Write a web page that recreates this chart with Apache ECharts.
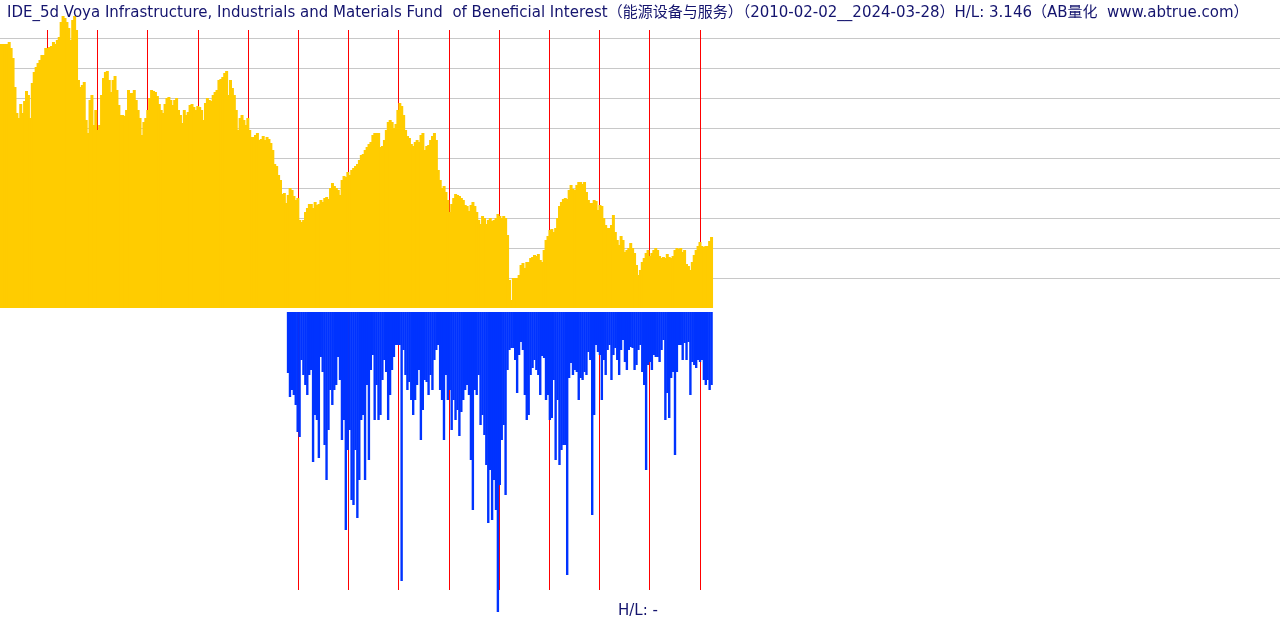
<!DOCTYPE html>
<html>
<head>
<meta charset="utf-8">
<script src="https://cdn.jsdelivr.net/npm/echarts@6/dist/echarts.min.js"></script>
<style>
html,body{margin:0;padding:0;background:#fff;}
#chart{width:1280px;height:620px;}
</style>
</head>
<body>
<div id="chart"></div>
<script>
// ---- data ----
const titleText = "IDE_5d Voya Infrastructure, Industrials and Materials Fund  of Beneficial Interest（能源设备与服务）（2010-02-02__2024-03-28）H/L: 3.146（AB量化  www.abtrue.com）";
const footText = "H/L: -";
const startDate = "2010-02-02";
const stepDays = 14;
// price-like series (one value per two weeks)
const priceValues = [
26.4,26.4,26.4,26.4,26.6,26.0,25.0,22.1,19.5,19.0,
20.4,19.5,20.7,21.7,21.3,19.0,22.5,23.6,24.1,24.5,
24.8,25.3,25.3,26.0,26.0,26.1,26.2,26.6,26.4,26.8,
27.1,28.6,29.2,29.0,28.6,28.0,26.8,28.8,29.2,27.8,
22.8,22.1,22.3,22.6,18.8,17.5,20.8,21.3,18.3,19.8,
17.8,18.3,21.3,23.0,23.6,23.7,22.8,21.6,22.8,23.2,
21.8,20.3,19.3,19.3,19.2,19.8,21.8,21.5,21.5,21.8,
20.8,19.8,19.0,17.3,18.6,19.0,19.8,21.0,21.8,21.7,
21.6,21.2,20.4,19.8,19.5,20.4,21.0,21.1,20.8,20.3,
20.8,21.0,19.8,19.3,18.5,19.8,19.3,19.6,20.3,20.4,
20.1,19.8,20.2,20.1,19.8,18.8,20.5,21.0,20.8,20.7,
21.3,21.6,21.8,22.8,22.9,23.1,23.5,23.7,21.3,22.8,
22.0,21.3,19.8,17.8,19.0,19.3,18.8,18.3,19.0,17.8,
17.1,17.1,17.3,17.5,16.8,16.9,17.2,16.8,17.1,16.9,
16.5,15.8,14.4,14.2,13.3,12.8,11.4,11.5,10.5,11.3,
12.0,11.8,11.2,10.8,11.0,8.8,8.6,8.8,9.6,10.0,
10.4,10.4,10.0,10.6,10.3,10.4,10.8,10.6,11.0,11.1,
10.9,12.0,12.5,12.2,12.0,11.8,11.3,12.8,13.2,13.1,
13.6,13.3,13.8,14.0,14.2,14.4,14.8,15.3,15.4,15.8,
16.1,16.4,16.6,17.3,17.5,17.5,17.5,16.1,16.2,16.8,
17.8,18.6,18.8,18.6,18.0,18.4,19.8,20.5,20.2,19.3,
17.8,17.2,17.0,16.4,16.2,16.6,16.8,16.6,17.3,17.5,
15.8,16.2,16.3,16.8,17.2,17.5,16.8,13.8,12.8,12.0,
12.2,11.6,10.8,9.6,10.4,11.0,11.4,11.3,11.2,11.0,
10.8,10.3,10.2,9.7,10.3,10.6,10.2,9.6,8.8,8.4,
9.2,9.0,8.4,8.8,9.0,8.7,8.8,9.0,9.4,9.2,
9.0,9.2,9.0,7.3,2.8,0.8,3.0,3.0,3.0,3.3,
4.3,4.5,4.0,4.6,4.6,5.0,5.1,5.3,5.2,5.4,
4.8,4.6,5.8,6.8,7.2,7.8,7.9,7.6,8.0,9.0,
10.2,10.6,10.9,11.0,10.9,11.8,12.3,11.9,11.8,12.3,
12.6,12.6,12.4,12.6,11.6,10.8,10.5,10.5,10.8,10.7,
9.8,10.3,10.2,9.0,8.3,8.0,8.0,8.3,9.3,7.6,
6.8,6.3,7.2,6.8,5.6,5.8,6.0,6.5,6.0,5.5,
4.3,3.3,3.8,4.6,5.0,5.5,5.8,5.2,5.5,5.8,
6.0,5.8,5.2,5.0,5.1,5.0,5.4,5.1,5.0,5.2,
5.8,6.0,5.9,6.0,5.6,5.8,4.4,4.2,3.8,4.6,
5.3,5.8,6.2,6.6,6.2,6.1,6.2,6.2,6.7,7.1
];
// lower panel series starts at this index of the price series
const lowerStartIndex = 149;
const lowerValues = [
6.1,8.5,7.8,8.3,9.3,12.0,12.5,4.8,6.3,7.3,
8.3,6.3,5.8,15.0,10.3,10.8,14.6,4.5,6.0,13.3,
16.8,11.8,7.8,9.3,7.8,7.3,4.5,6.8,12.8,10.8,
21.8,13.8,11.8,18.8,19.3,13.8,20.6,16.8,10.8,10.3,
16.8,7.3,14.8,5.8,4.3,10.8,7.3,10.8,10.3,6.8,
4.8,6.0,10.8,8.3,5.8,4.5,3.3,3.3,3.3,26.9,
3.8,6.3,7.8,7.0,8.8,10.3,8.8,7.3,5.8,12.8,
9.8,6.8,7.0,8.3,6.3,7.8,4.8,3.8,3.3,7.8,
8.8,12.8,6.3,8.8,7.8,11.8,8.8,10.8,9.8,12.4,
10.0,8.8,7.8,7.3,8.3,14.8,19.8,7.8,8.3,6.3,
11.3,10.3,12.3,15.3,21.1,15.8,20.8,16.8,19.8,30.0,
17.3,12.8,11.3,18.3,5.8,3.8,3.6,3.6,4.8,8.1,
4.3,3.0,3.8,8.3,10.8,10.3,6.3,5.6,4.8,5.8,
6.3,8.3,4.4,4.6,8.8,8.3,10.8,10.6,6.8,14.8,
8.8,15.3,13.8,13.3,13.3,26.3,6.6,5.1,6.3,5.8,
6.0,8.8,6.6,6.8,6.0,6.3,4.0,4.8,20.3,10.3,
3.3,4.0,4.3,8.8,4.8,6.3,3.8,3.3,6.8,4.3,
3.6,4.8,6.3,3.8,2.8,5.0,5.8,3.8,3.5,3.6,
5.8,5.3,3.8,3.3,6.0,7.3,15.8,5.3,5.0,5.8,
4.3,4.5,4.5,5.0,3.8,2.8,10.8,8.1,10.6,6.6,
6.0,14.3,6.0,3.3,3.3,4.8,3.1,4.8,3.0,8.3,
5.0,5.3,5.6,4.8,5.0,4.8,6.8,7.3,6.8,7.8,
7.3
];
const upperYearMarks = ["2011-01-01","2012-01-01","2013-01-01","2014-01-01","2015-01-01","2016-01-01","2017-01-01","2018-01-01","2019-01-01","2020-01-01","2021-01-01","2022-01-01","2023-01-01","2024-01-01"];
const lowerYearMarks = ["2016-01-01","2017-01-01","2018-01-01","2019-01-01","2020-01-01","2021-01-01","2022-01-01","2023-01-01","2024-01-01"];
const markTop = 27.8;

// ---- build ----
const DAY = 86400000;
const t0 = Date.parse(startDate + "T00:00:00Z");
const axisMax = t0 + 9291 * DAY;
const ts = s => Date.parse(s + "T00:00:00Z");
const priceData = priceValues.map((v, i) => [t0 + i * stepDays * DAY, v]);
const lowerData = lowerValues.map((v, k) => [t0 + (lowerStartIndex + k) * stepDays * DAY, v]);
const marks = arr => arr.map(d => [{coord: [ts(d), markTop]}, {coord: [ts(d), 0]}]);

const FONT = 'DejaVu Sans, Noto Sans CJK SC, sans-serif';
const chart = echarts.init(document.getElementById('chart'), null, {renderer: 'canvas'});
const hiddenX = (gi) => ({type: 'time', gridIndex: gi, min: t0, max: axisMax, show: false});
chart.setOption({
  animation: false,
  backgroundColor: '#ffffff',
  title: {
    text: titleText,
    left: 2, top: 1,
    textStyle: {fontSize: 15, fontWeight: 'normal', color: '#14146e', fontFamily: FONT}
  },
  graphic: [{
    type: 'text', left: 618, top: 604,
    style: {text: footText, fontSize: 15, fill: '#14146e', fontFamily: FONT}
  }],
  grid: [
    {left: 0, right: 0, top: 8, height: 300},
    {left: 0, right: 0, top: 312, height: 300}
  ],
  xAxis: [hiddenX(0), hiddenX(1)],
  yAxis: [
    {type: 'value', gridIndex: 0, min: 0, max: 30, interval: 3,
     axisLine: {show: false}, axisTick: {show: false}, axisLabel: {show: false},
     splitLine: {show: true, showMinLine: false, showMaxLine: false, lineStyle: {color: '#c8c8c8', width: 1}}},
    {type: 'value', gridIndex: 1, min: 0, max: 30, inverse: true, show: false, splitLine: {show: false}}
  ],
  series: [
    {type: 'line', xAxisIndex: 0, yAxisIndex: 0, data: [], z: 1, silent: true,
     markLine: {silent: true, symbol: 'none', z: 1, label: {show: false},
       lineStyle: {color: '#ff0000', width: 1, type: 'solid'}, emphasis: {disabled: true},
       data: marks(upperYearMarks)}},
    {type: 'line', xAxisIndex: 1, yAxisIndex: 1, data: [], z: 1, silent: true,
     markLine: {silent: true, symbol: 'none', z: 1, label: {show: false},
       lineStyle: {color: '#ff0000', width: 1, type: 'solid'}, emphasis: {disabled: true},
       data: marks(lowerYearMarks)}},
    {type: 'bar', xAxisIndex: 0, yAxisIndex: 0, data: priceData, barWidth: 3, z: 3,
     large: false, itemStyle: {color: '#ffcc00'}, silent: true},
    {type: 'bar', xAxisIndex: 1, yAxisIndex: 1, data: lowerData, barWidth: 2.4, z: 3,
     large: false, itemStyle: {color: '#0033ff'}, silent: true}
  ]
});
</script>
</body>
</html>
